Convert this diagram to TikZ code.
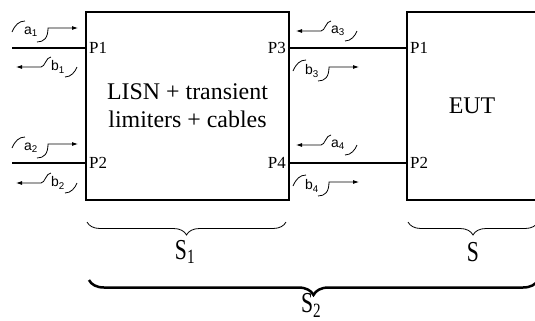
\documentclass[tikz,border=0pt]{standalone}
\usepackage{fontspec}
\usepackage{graphicx}
\setmainfont{Liberation Serif}
\newfontfamily\arialfont{Liberation Sans}
\usetikzlibrary{arrows.meta,decorations.pathreplacing}
\tikzset{
  boxnode/.style={draw, line width=2.5bp, outer sep=0pt, inner sep=0pt},
  portline/.style={line width=2.5bp},
  plab/.style={inner sep=3bp, font=\fontsize{17}{19}\selectfont},
  slab/.style={inner sep=0pt, font=\arialfont\fontsize{14}{16}\selectfont},
  thinl/.style={line width=0.8bp},
  tipa/.style={-{Latex[length=6bp,width=4bp]}},
  bigS/.style={inner sep=0pt, font=\fontsize{29}{30}\selectfont},
}
\newcommand\rlab[4]{%
  \node[slab] (#1) at (#2,#3) {#4};
  \draw[thinl] ([shift={(-19,0)}]#1.center) .. controls ([shift={(-16,-7)}]#1.center) and ([shift={(-12,-11)}]#1.center) .. ([shift={(-6,-11)}]#1.center);
  \draw[thinl,tipa] ([shift={(6,10)}]#1.center) .. controls ([shift={(13,10)}]#1.center) and ([shift={(17,6)}]#1.center) .. ([shift={(17,-4)}]#1.center) -- ([shift={(47,-4)}]#1.center);
}
\newcommand\llab[4]{%
  \node[slab] (#1) at (#2,#3) {#4};
  \draw[thinl,tipa] ([shift={(-7,-10)}]#1.center) .. controls ([shift={(-12,-10)}]#1.center) and ([shift={(-13,0)}]#1.center) .. ([shift={(-17,0)}]#1.center) -- ([shift={(-42,0)}]#1.center);
  \draw[thinl] ([shift={(7,10)}]#1.center) .. controls ([shift={(13,10)}]#1.center) and ([shift={(17,5)}]#1.center) .. ([shift={(19,0)}]#1.center);
}
\begin{document}
\begin{tikzpicture}[x=1bp,y=-1bp]
\useasboundingbox (0,0) rectangle (535,320);
% boxes
\node[boxnode, minimum width=203bp, minimum height=188bp, align=center,
      font=\fontsize{24}{28}\selectfont] (lisn) at (187.5,106) {LISN + transient\\limiters + cables};
\node[boxnode, minimum width=130bp, minimum height=188bp,
      font=\fontsize{24}{28}\selectfont] (eut) at (472,106) {EUT};
% port lines
\coordinate (in1) at (12,48);
\coordinate (in2) at (12,163);
\draw[portline] (in1) -- (in1 -| lisn.west);
\draw[portline] (in2) -- (in2 -| lisn.west);
\draw[portline] (lisn.east |- in1) -- (eut.west |- in1);
\draw[portline] (lisn.east |- in2) -- (eut.west |- in2);
% port labels
\node[plab, anchor=west] (lp1) at (lisn.west |- in1) {P1};
\node[plab, anchor=west] (lp2) at (lisn.west |- in2) {P2};
\node[plab, anchor=east] (lp3) at (lisn.east |- in1) {P3};
\node[plab, anchor=east] (lp4) at (lisn.east |- in2) {P4};
\node[plab, anchor=west] (ep1) at (eut.west |- in1) {P1};
\node[plab, anchor=west] (ep2) at (eut.west |- in2) {P2};
% wave labels
\rlab{a1}{31}{32}{a\textsubscript{1}}
\llab{b1}{58}{67}{b\textsubscript{1}}
\rlab{a2}{31}{148}{a\textsubscript{2}}
\llab{b2}{58}{183}{b\textsubscript{2}}
\llab{a3}{338}{31}{a\textsubscript{3}}
\rlab{b3}{312}{71}{b\textsubscript{3}}
\llab{a4}{338}{145}{a\textsubscript{4}}
\rlab{b4}{312}{186}{b\textsubscript{4}}
% braces
\coordinate (s1l) at (87,222);
\coordinate (s1r) at (286,222);
\coordinate (sl) at (408,222);
\coordinate (sr) at (538,222);
\coordinate (s2l) at (89,280);
\coordinate (s2r) at (538,280);
\draw[thinl, decorate, decoration={brace, mirror, amplitude=13bp}] (s1l) -- (s1r);
\draw[thinl, decorate, decoration={brace, mirror, amplitude=13bp}] (sl) -- (sr);
\draw[line width=2.5bp, decorate, decoration={brace, mirror, amplitude=15bp}] (s2l) -- (s2r);
\node[bigS] (S1) at (185,252) {\scalebox{0.75}[1]{S\textsubscript{1}}};
\node[bigS] (S) at (473,252) {\scalebox{0.75}[1]{S}};
\node[bigS] (S2) at (311,305) {\scalebox{0.75}[1]{S\textsubscript{2}}};
\end{tikzpicture}
\end{document}
